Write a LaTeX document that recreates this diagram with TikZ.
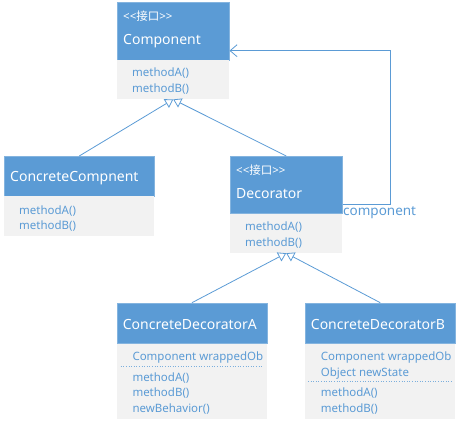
\documentclass[tikz,border=0pt]{standalone}
\usepackage{fontspec}
\setmainfont{Noto Sans}
\newfontfamily\cjk{Noto Sans CJK SC}
\usetikzlibrary{arrows.meta}
\definecolor{umlblue}{HTML}{5B9BD5}
\definecolor{umlgrey}{HTML}{F2F2F2}

\begin{document}
\begin{tikzpicture}[x=1pt, y=-1pt,
  head/.style={rectangle, fill=umlblue, draw=umlblue!75!white, line width=0.5pt, anchor=north west, inner sep=0pt},
  body/.style={rectangle, fill=umlgrey, anchor=north west, inner sep=0pt},
  title/.style={anchor=base west, inner sep=0pt, text=white, font=\fontsize{14}{16}\selectfont},
  stereo/.style={anchor=base west, inner sep=0pt, text=white, font=\fontsize{11.5}{13}\selectfont},
  member/.style={anchor=base west, inner sep=0pt, text=umlblue, font=\fontsize{11.5}{13}\selectfont},
  inherit/.style={draw=umlblue, line width=0.8pt, -{Triangle[open, length=8pt, width=10pt]}},
  aggr/.style={draw=umlblue, line width=0.8pt, -{Straight Barb[length=7pt, width=12pt]}},
  sepline/.style={draw=umlblue!80!white, line width=0.6pt, dotted}]
  \useasboundingbox (0,0) rectangle (458,423);

  % Component
  \node (cmph) [head, minimum width=112pt, minimum height=58pt] at (117,2) {};
  \node (cmpb) [body, minimum width=112pt, minimum height=39pt] at (117,60) {};
  \node (cmps) [stereo] at (123,20) {{<}{<}{\cjk 接口}{>}{>}};
  \node (cmpt) [title] at (123,44.5) {Component};
  \node (cmpa) [member] at (132,76.5) {methodA()};
  \node (cmpm) [member] at (132,92) {methodB()};

  % ConcreteCompnent
  \node (cch) [head, minimum width=150pt, minimum height=40pt] at (4,156) {};
  \node (ccb) [body, minimum width=150pt, minimum height=40pt] at (4,196) {};
  \node (cct) [title] at (10,181.5) {ConcreteCompnent};
  \node (cca) [member] at (19,214) {methodA()};
  \node (ccm) [member] at (19,229.5) {methodB()};

  % Decorator
  \node (dech) [head, minimum width=112pt, minimum height=57pt] at (230,156) {};
  \node (decb) [body, minimum width=112pt, minimum height=39.5pt] at (230,213.3) {};
  \node (decs) [stereo] at (236,174) {{<}{<}{\cjk 接口}{>}{>}};
  \node (dect) [title] at (236,198.3) {Decorator};
  \node (deca) [member] at (245,230.5) {methodA()};
  \node (decm) [member] at (245,246.5) {methodB()};

  % ConcreteDecoratorA
  \node (cdah) [head, minimum width=150pt, minimum height=40.6pt] at (116.7,302.7) {};
  \node (cdab) [body, minimum width=150pt, minimum height=75pt] at (116.7,343.3) {};
  \node (cdat) [title] at (122.7,329) {ConcreteDecoratorA};
  \node (cdaw) [member] at (132.3,360.5) {Component wrappedOb};
  \draw[sepline] (120.7,366) -- (263,366);
  \node (cdaa) [member] at (132.3,381.5) {methodA()};
  \node (cdam) [member] at (132.3,396.5) {methodB()};
  \node (cdan) [member] at (132.3,412.5) {newBehavior()};

  % ConcreteDecoratorB
  \node (cdbh) [head, minimum width=150pt, minimum height=40.6pt] at (305,302.7) {};
  \node (cdbb) [body, minimum width=150pt, minimum height=75pt] at (305,343.3) {};
  \node (cdbt) [title] at (310.7,329) {ConcreteDecoratorB};
  \node (cdbw) [member] at (320.7,360.5) {Component wrappedOb};
  \node (cdbo) [member] at (320.7,376.5) {Object newState};
  \draw[sepline] (308,381.7) -- (451.7,381.7);
  \node (cdba) [member] at (320.7,396.5) {methodA()};
  \node (cdbm) [member] at (320.7,412.5) {methodB()};

  % inheritance
  \draw[inherit] (cch.north) -- (cmpb.south);
  \draw[inherit] (dech.north) -- (cmpb.south);
  \draw[inherit] (cdah.north) -- (decb.south);
  \draw[inherit] (cdbh.north) -- (decb.south);

  % aggregation
  \coordinate (aggy) at (0,204);
  \coordinate (aggx) at (390,50.7);
  \draw[aggr] (dech.east |- aggy) -| (aggx) -- (cmph.east |- aggx);
  \node (aggl) [member, font=\fontsize{13.5}{15}\selectfont] at (343,215.5) {component};
\end{tikzpicture}
\end{document}
